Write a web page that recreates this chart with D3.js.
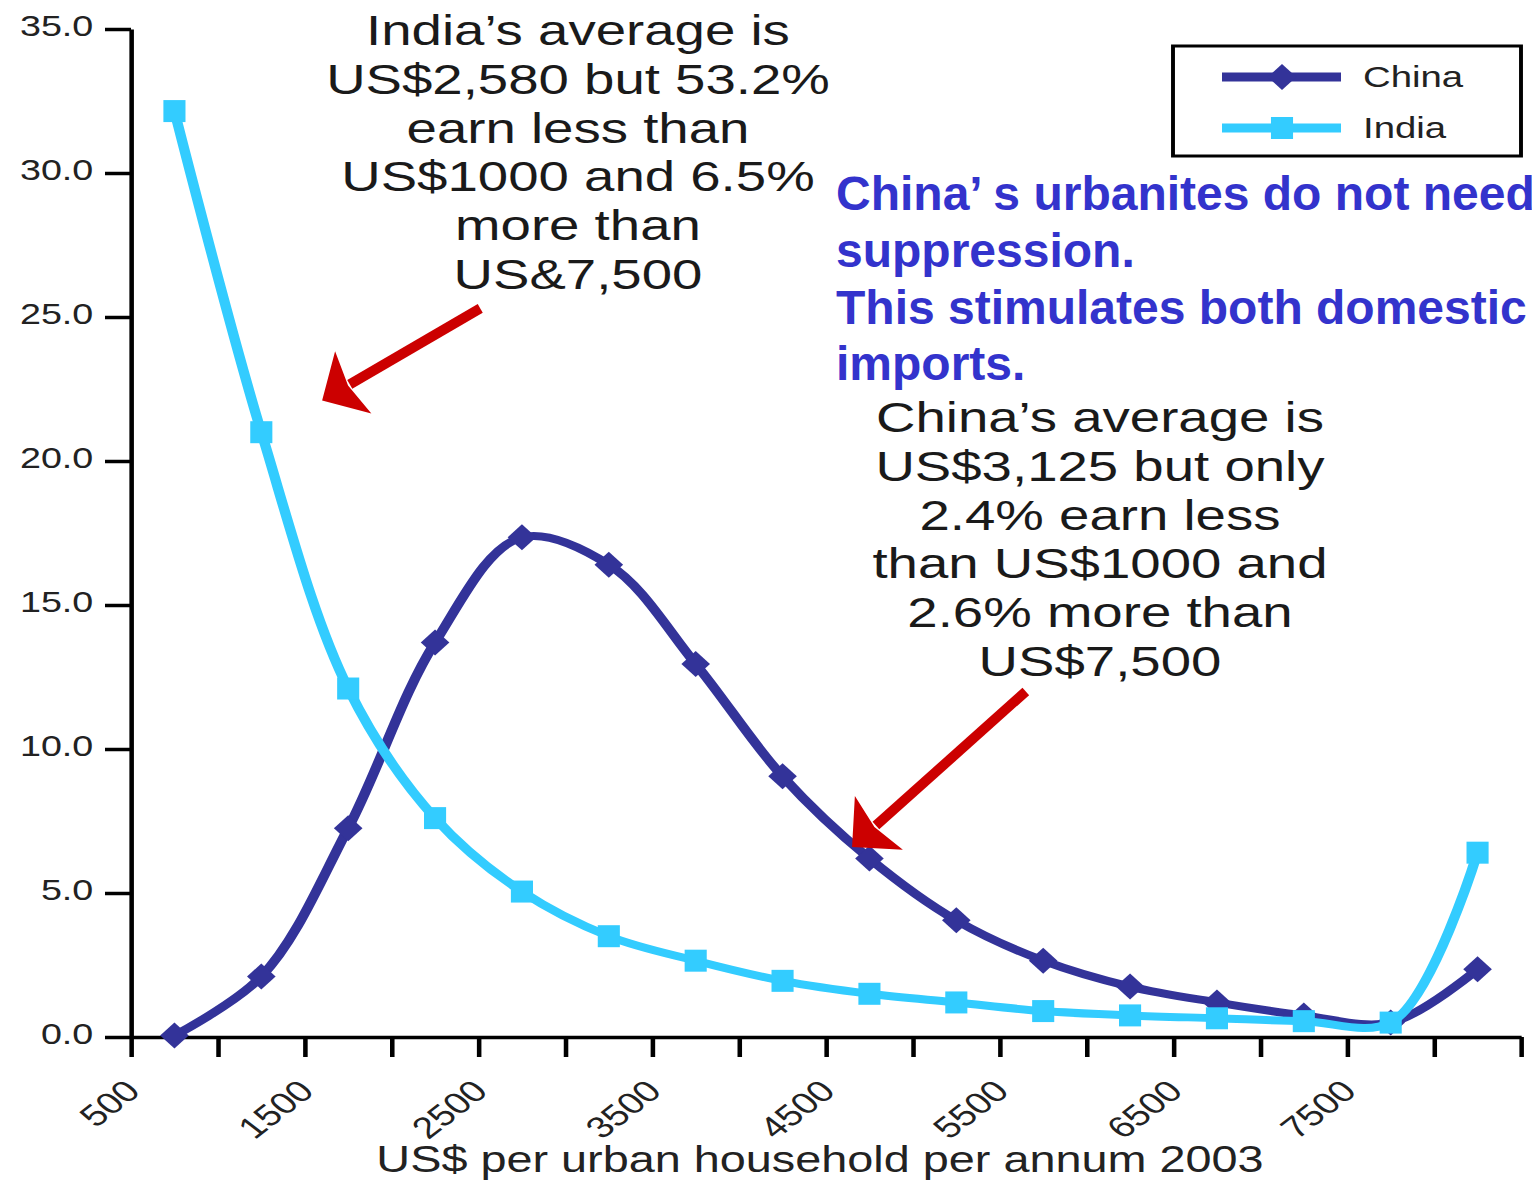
<!DOCTYPE html>
<html>
<head>
<meta charset="utf-8">
<script src="https://cdn.jsdelivr.net/npm/d3@7/dist/d3.min.js"></script>
<style>
  html, body { margin: 0; padding: 0; background: #fff; }
  text { font-family: "Liberation Sans", Arial, sans-serif; }
</style>
</head>
<body>
<div id="chart"></div>
<script>
(function () {

    // income band mid points (US$ per urban household per annum, 2003)
    const incomeBands = [750, 1250, 1750, 2250, 2750, 3250, 3750, 4250, 4750, 5250, 5750, 6250, 6750, 7250, 7750, 8250]
    // share of urban households, %
    const chinaShare = [0.05, 2.1, 7.25, 13.7, 17.35, 16.4, 12.95, 9.05, 6.2, 4.05, 2.65, 1.75, 1.2, 0.75, 0.5, 2.35]
    const indiaShare = [32.15, 21.0, 12.1, 7.6, 5.05, 3.5, 2.65, 1.95, 1.5, 1.2, 0.9, 0.75, 0.65, 0.55, 0.5, 6.4]

    const xTicks = [500, 1000, 1500, 2000, 2500, 3000, 3500, 4000, 4500, 5000, 5500, 6000, 6500, 7000, 7500, 8000, 8500]
    const xLabelled = [500, 1500, 2500, 3500, 4500, 5500, 6500, 7500]
    const yTicks = [0, 5, 10, 15, 20, 25, 30, 35]

    const seriesNames = ["China", "India"]
    const seriesColors = ["#333399", "#33ccff"]

    const indiaNote = ["India\u2019s average is", "US$2,580 but 53.2%", "earn less than", "US$1000 and 6.5%", "more than", "US&7,500"]
    const chinaNote = ["China\u2019s average is", "US$3,125 but only", "2.4% earn less", "than US$1000 and", "2.6% more than", "US$7,500"]
    const blueNote = ["China\u2019 s urbanites do not need", "suppression.", "This stimulates both domestic", "imports."]
    const xTitle = "US$ per urban household per annum 2003"

    // arrows in data units: [tailX, tailY, tipX, tipY]
    const arrows = [[2510, 25.3, 1600, 22.1], [5650, 12.0, 4650, 6.6]]

    const width = 1532
    const height = 1184
    const SX = 1.3   // the original picture is stretched sideways

    const svg = d3.select("#chart")
        .append("svg")
        .attr("width", width)
        .attr("height", height)

    svg.append("rect").attr("width", width).attr("height", height).attr("fill", "#fff")

    const chart = svg.append("g").attr("transform", `scale(${SX},1)`)

    const xScale = d3.scaleLinear()
        .domain([500, 8500])
        .range([131 / SX, 1521 / SX])

    const yScale = d3.scaleLinear()
        .domain([0, 35])
        .range([1037, 29])

    // y axis
    const yAxis = chart.append("g")
        .attr("transform", `translate(${xScale(500)},0)`)
        .call(d3.axisLeft(yScale)
            .tickValues(yTicks)
            .tickFormat(d3.format(".1f"))
            .tickSize(20)
            .tickSizeOuter(0)
            .tickPadding(9))
    yAxis.selectAll("text")
        .attr("font-size", 29)
        .attr("fill", "#222")
        .attr("dy", "0.22em")
        .style("font-family", "'Liberation Sans', Arial, sans-serif")

    // x axis
    const xAxis = chart.append("g")
        .attr("transform", `translate(0,${yScale(0)})`)
        .call(d3.axisBottom(xScale)
            .tickValues(xTicks)
            .tickFormat(d => xLabelled.includes(d) ? String(d) : "")
            .tickSize(20)
            .tickSizeOuter(0))
    xAxis.selectAll("text")
        .attr("font-size", 30)
        .attr("fill", "#222")
        .attr("text-anchor", "end")
        .attr("x", 0).attr("y", 0).attr("dy", 0)
        .attr("transform", "translate(8,56) rotate(-45)")
        .style("font-family", "'Liberation Sans', Arial, sans-serif")

    chart.selectAll(".domain, .tick line")
        .attr("stroke", "#000")
        .attr("stroke-width", 3.5)

    chart.append("text")
        .attr("x", xScale(4500) - 6 / SX)
        .attr("y", 1172)
        .attr("text-anchor", "middle")
        .attr("font-size", 36)
        .attr("fill", "#222")
        .text(xTitle)

    // series
    const series = [chinaShare, indiaShare].map((vals, i) => ({
        name: seriesNames[i],
        color: seriesColors[i],
        points: vals.map((v, j) => ({ x: incomeBands[j], y: v }))
    }))

    const line = d3.line()
        .x(d => xScale(d.x))
        .y(d => yScale(d.y))
        .curve(d3.curveCatmullRom.alpha(0.5))

    const diamond = (cx, cy) => `M${cx},${cy - 13}L${cx + 11},${cy}L${cx},${cy + 13}L${cx - 11},${cy}Z`
    const square = (cx, cy) => `M${cx - 8.5},${cy - 11}h17v22h-17Z`
    const markerPath = [diamond, square]

    series.forEach((s, i) => {
        const g = chart.append("g")
        g.append("path")
            .attr("d", line(s.points))
            .attr("fill", "none")
            .attr("stroke", s.color)
            .attr("stroke-width", 8)
            .attr("stroke-linejoin", "round")
        g.selectAll("path.mk")
            .data(s.points)
            .enter()
            .append("path")
            .attr("class", "mk")
            .attr("d", d => markerPath[i](xScale(d.x), yScale(d.y)))
            .attr("fill", s.color)
    })

    // legend
    const legend = chart.append("g")
    legend.append("rect")
        .attr("x", 1173 / SX).attr("y", 46)
        .attr("width", (1521 - 1173) / SX).attr("height", 110)
        .attr("fill", "#fff")
        .attr("stroke", "#000")
        .attr("stroke-width", 3)
    series.forEach((s, i) => {
        const ly = 77 + i * 51
        legend.append("line")
            .attr("x1", 1222 / SX).attr("x2", 1341 / SX)
            .attr("y1", ly).attr("y2", ly)
            .attr("stroke", s.color)
            .attr("stroke-width", 9)
        legend.append("path")
            .attr("d", markerPath[i](1282 / SX, ly))
            .attr("fill", s.color)
        legend.append("text")
            .attr("x", 1363 / SX).attr("y", ly + 10)
            .attr("font-size", 29.5)
            .attr("fill", "#222")
            .text(s.name)
    })

    // black annotations
    const note = (lines, cx, firstBase) => {
        chart.append("g")
            .selectAll("text")
            .data(lines)
            .enter()
            .append("text")
            .attr("x", cx / SX)
            .attr("y", (d, i) => firstBase + i * 48.8)
            .attr("text-anchor", "middle")
            .attr("font-size", 42)
            .attr("fill", "#1a1a1a")
            .text(d => d)
    }
    note(indiaNote, 578, 45)
    note(chinaNote, 1100, 432)

    // red arrows, drawn in screen pixels
    arrows.forEach(a => {
        const sx = xScale(a[0]) * SX, sy = yScale(a[1])
        const tx = xScale(a[2]) * SX, ty = yScale(a[3])
        const len = Math.hypot(sx - tx, sy - ty)
        const ux = (sx - tx) / len, uy = (sy - ty) / len
        const nx = -uy, ny = ux
        const headL = 36, headW = 36
        const bx = tx + ux * headL, by = ty + uy * headL
        svg.append("line")
            .attr("x1", sx).attr("y1", sy)
            .attr("x2", bx - ux * 4).attr("y2", by - uy * 4)
            .attr("stroke", "#cc0000")
            .attr("stroke-width", 10)
        svg.append("path")
            .attr("d", `M${tx},${ty}L${bx + nx * headW},${by + ny * headW}L${bx - ux * 6},${by - uy * 6}L${bx - nx * headW},${by - ny * headW}Z`)
            .attr("fill", "#cc0000")
    })

    // blue commentary
    svg.append("g")
        .selectAll("text")
        .data(blueNote)
        .enter()
        .append("text")
        .attr("x", 836)
        .attr("y", (d, i) => 210 + i * 56.8)
        .attr("font-size", 48)
        .attr("font-weight", "bold")
        .attr("fill", "#3333cc")
        .text(d => d)
})()
</script>
</body>
</html>
